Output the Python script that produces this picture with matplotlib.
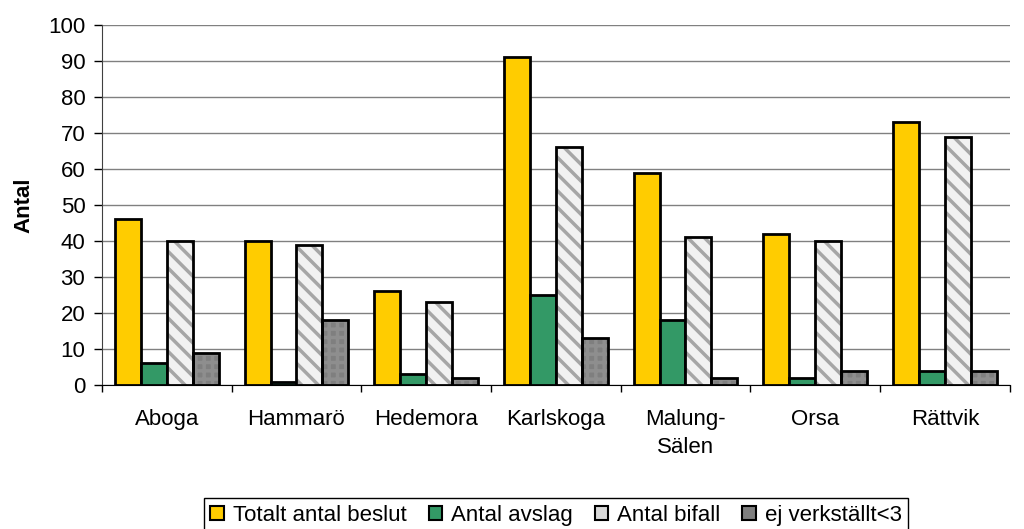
import numpy as np
import matplotlib.pyplot as plt
from matplotlib.patches import Patch

plt.rcParams['font.family'] = ['Liberation Sans', 'DejaVu Sans']
plt.rcParams['hatch.linewidth'] = 2.5

# Data
kommuner = ["Aboga", "Hammarö", "Hedemora", "Karlskoga", "Malung-\nSälen", "Orsa", "Rättvik"]
totalt = [46, 40, 26, 91, 59, 42, 73]
avslag = [6, 1, 3, 25, 18, 2, 4]
bifall = [40, 39, 23, 66, 41, 40, 69]
ej_verkst = [9, 18, 2, 13, 2, 4, 4]

series = [
    ("Totalt antal beslut", totalt, "#FFCC00", None, None),
    ("Antal avslag", avslag, "#339966", None, None),
    ("Antal bifall", bifall, "#F2F2F2", "\\\\", "#A6A6A6"),
    ("ej verkställt<3", ej_verkst, "#7F7F7F", "++", "#8E8E8E"),
]

FS = 16

fig = plt.figure(figsize=(10.24, 5.29), dpi=100)
ax = fig.add_axes([0.0996, 0.272, 0.8864, 0.681])

x = np.arange(len(kommuner))
w = 0.2
for i, (name, vals, fc, hatch, hc) in enumerate(series):
    pos = x - 0.3 + i * w
    if hatch:
        ax.bar(pos, vals, w, color=fc, hatch=hatch, edgecolor=hc, linewidth=0, zorder=3)
        ax.bar(pos, vals, w, fill=False, edgecolor="black", linewidth=2, zorder=4)
    else:
        ax.bar(pos, vals, w, color=fc, edgecolor="black", linewidth=2, zorder=3)

ax.set_xlim(-0.5, len(kommuner) - 0.5)
ax.set_ylim(0, 100)
ax.set_yticks(range(0, 101, 10))
ax.yaxis.grid(True, color="#808080", linewidth=1, zorder=0)
ax.tick_params(axis="y", labelsize=FS, length=6, width=1, direction="out", pad=6)

# x ticks at category boundaries, labels centred
ax.set_xticks(np.arange(-0.5, len(kommuner)), minor=False)
ax.set_xticklabels([])
ax.set_xticks(x, minor=True)
ax.set_xticklabels(kommuner, minor=True, fontsize=FS, linespacing=1.45)
ax.tick_params(axis="x", which="major", length=5, width=1)
ax.tick_params(axis="x", which="minor", length=0, pad=17)

for s in ["top", "right"]:
    ax.spines[s].set_visible(False)
ax.spines["left"].set_color("#404040")
ax.spines["bottom"].set_color("black")

ax.set_ylabel("Antal", fontsize=FS, fontweight="bold", labelpad=10)

handles = [Patch(facecolor=fc, edgecolor="black", linewidth=1.5)
           for name, vals, fc, hatch, hc in series]
handles[2] = Patch(facecolor="#D9D9D9", edgecolor="black", linewidth=1.5)
leg = fig.legend(handles, [s[0] for s in series], loc="upper center",
                 bbox_to_anchor=(0.543, 0.0586), ncol=4, fontsize=FS,
                 handlelength=0.6, handleheight=0.6, handletextpad=0.4,
                 columnspacing=1.0, borderpad=0.3, borderaxespad=0,
                 fancybox=False, edgecolor="black", framealpha=1)
leg.get_frame().set_linewidth(1)

fig.savefig("out.png", dpi=100)
